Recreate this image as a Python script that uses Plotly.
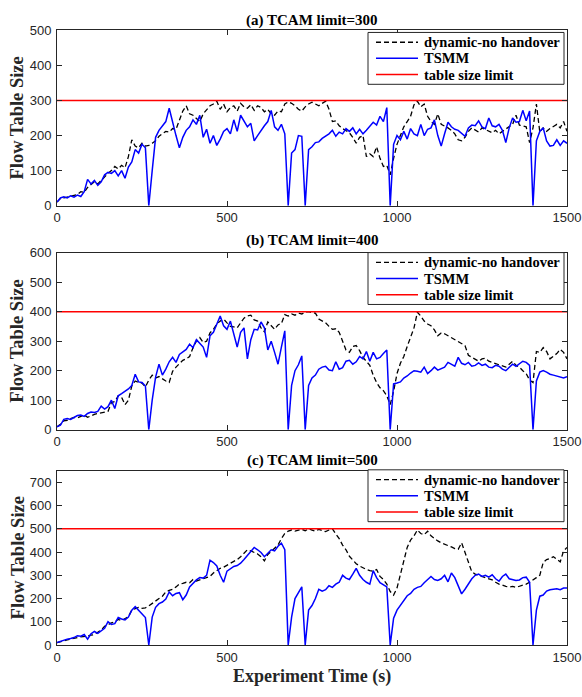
import plotly.graph_objects as go

# Time axis (s), sampled every 10 s
time_s = list(range(0, 1501, 10))

# Table-size limits for the three experiments
limits = [300, 400, 500]
panel_titles = ["(a) TCAM limit=300", "(b) TCAM limit=400", "(c) TCAM limit=500"]
y_ranges = [[0, 500], [0, 600], [0, 750]]
series_names = ["dynamic-no handover", "TSMM", "table size limit"]

# (a) limit = 300
dyn_a = [10, 20, 22, 25, 28, 30, 32, 40, 38, 52, 60, 68, 62, 72, 85, 92, 100, 112, 105, 115,
         108, 140, 188, 170, 165, 178, 170, 172, 178, 185, 198, 205, 212, 210, 220, 218, 245, 270, 285, 262,
         258, 250, 240, 262, 272, 285, 290, 298, 275, 290, 268, 280, 285, 270, 292, 282, 278, 288, 272, 285,
         280, 268, 275, 262, 258, 270, 268, 290, 296, 292, 285, 275, 270, 282, 290, 295, 290, 285, 292, 298,
         275, 240, 242, 228, 220, 215, 208, 195, 178, 195, 200, 140, 148, 140, 168, 135, 112, 115, 88, 135,
         175, 200, 225, 240, 255, 288, 298, 282, 290, 255, 240, 232, 262, 232, 228, 222, 215, 205, 188, 185,
         195, 212, 222, 215, 210, 222, 218, 212, 208, 215, 205, 212, 218, 225, 232, 258, 230, 228, 225, 180,
         222, 290, 210, 222, 212, 220, 225, 232, 222, 240, 212]
tsmm_a = [10, 22, 25, 22, 28, 24, 30, 26, 40, 75, 62, 72, 58, 68, 88, 95, 92, 100, 85, 100,
          78, 110, 125, 160, 150, 175, 165, 0, 100, 195, 215, 228, 240, 278, 235, 200, 165, 195, 215, 225,
          245, 232, 258, 195, 218, 178, 200, 172, 190, 212, 220, 205, 245, 212, 258, 240, 225, 235, 185, 200,
          215, 228, 240, 272, 225, 215, 232, 205, 0, 150, 160, 200, 198, 0, 160, 168, 180, 182, 192, 198,
          205, 215, 198, 210, 205, 220, 212, 222, 205, 218, 205, 215, 225, 238, 230, 255, 240, 280, 0, 175,
          200, 188, 212, 190, 220, 205, 200, 232, 200, 218, 222, 245, 200, 170, 205, 238, 225, 218, 215, 205,
          198, 222, 230, 228, 242, 225, 220, 250, 228, 225, 232, 215, 180, 222, 250, 238, 240, 272, 242, 270,
          0, 185, 212, 222, 185, 170, 172, 188, 172, 185, 178]

# (b) limit = 400
dyn_b = [10, 18, 30, 32, 38, 42, 40, 45, 50, 42, 48, 52, 55, 58, 60, 62, 92, 95, 115, 110,
         85, 100, 148, 165, 160, 158, 145, 168, 185, 175, 180, 172, 165, 160, 198, 212, 222, 235, 240, 248,
         278, 300, 312, 295, 300, 328, 340, 358, 368, 375, 362, 350, 348, 345, 362, 378, 385, 388, 372, 368,
         345, 332, 365, 352, 340, 355, 360, 390, 385, 392, 388, 395, 392, 398, 400, 396, 395, 375, 368, 362,
         350, 340, 342, 330, 300, 270, 262, 282, 285, 268, 245, 232, 218, 185, 160, 142, 132, 115, 85, 130,
         190, 225, 248, 282, 312, 345, 398, 385, 368, 358, 352, 338, 318, 328, 325, 318, 312, 305, 298, 292,
         285, 252, 245, 238, 232, 240, 242, 232, 228, 225, 220, 218, 212, 222, 232, 218, 212, 200, 190, 168,
         160, 265, 262, 278, 265, 240, 248, 258, 272, 262, 240]
tsmm_b = [10, 15, 35, 38, 35, 42, 48, 50, 45, 55, 60, 58, 62, 80, 70, 78, 100, 72, 115, 122,
          130, 138, 150, 188, 162, 160, 148, 0, 100, 178, 222, 185, 205, 230, 245, 228, 255, 265, 272, 290,
          278, 305, 292, 280, 245, 318, 330, 360, 385, 352, 340, 368, 322, 280, 330, 345, 240, 305, 340, 338,
          365, 345, 270, 300, 262, 222, 280, 335, 0, 150, 200, 220, 250, 0, 150, 175, 185, 205, 212, 215,
          202, 200, 230, 205, 210, 232, 235, 222, 230, 248, 240, 265, 232, 262, 240, 245, 258, 270, 0, 155,
          158, 162, 175, 182, 192, 200, 198, 195, 212, 190, 200, 212, 202, 208, 212, 228, 222, 215, 245, 225,
          220, 228, 215, 218, 226, 218, 222, 212, 210, 218, 215, 205, 200, 212, 222, 215, 225, 232, 228, 218,
          0, 165, 195, 200, 195, 188, 185, 182, 180, 175, 180]

# (c) limit = 500
dyn_c = [10, 15, 20, 22, 25, 30, 32, 35, 35, 38, 42, 45, 55, 65, 80, 88, 95, 100, 110, 105,
         115, 122, 150, 155, 162, 158, 160, 168, 180, 188, 200, 210, 228, 235, 240, 250, 262, 265, 270, 268,
         282, 275, 280, 285, 288, 295, 310, 320, 330, 335, 342, 352, 360, 368, 380, 395, 410, 405, 398, 392,
         380, 362, 390, 402, 415, 430, 458, 480, 490, 495, 490, 495, 498, 492, 500, 495, 490, 498, 492, 488,
         495, 500, 478, 458, 430, 410, 382, 365, 350, 340, 332, 325, 320, 318, 325, 295, 282, 262, 230, 215,
         245, 305, 365, 420, 452, 470, 495, 480, 475, 490, 470, 458, 448, 440, 435, 428, 422, 415, 412, 440,
         395, 350, 315, 305, 300, 298, 292, 285, 280, 270, 262, 258, 252, 250, 252, 248, 252, 255, 262, 270,
         282, 290, 300, 355, 368, 372, 380, 368, 358, 405, 420]
tsmm_c = [10, 15, 22, 25, 28, 32, 40, 38, 45, 25, 48, 58, 50, 62, 72, 100, 88, 92, 118, 112,
          108, 120, 150, 165, 150, 135, 118, 0, 120, 162, 178, 185, 198, 228, 212, 222, 225, 195, 215, 250,
          265, 280, 290, 288, 300, 365, 355, 340, 300, 270, 318, 330, 338, 342, 352, 368, 385, 400, 420, 410,
          398, 380, 395, 410, 405, 425, 438, 410, 0, 120, 200, 225, 250, 0, 150, 170, 200, 240, 232, 238,
          255, 248, 262, 270, 300, 288, 282, 305, 330, 300, 282, 270, 262, 320, 290, 268, 258, 250, 0, 115,
          150, 170, 195, 212, 222, 240, 248, 252, 268, 280, 295, 282, 278, 285, 300, 272, 310, 290, 255, 220,
          240, 262, 285, 300, 305, 295, 300, 292, 302, 285, 275, 295, 305, 285, 282, 278, 280, 290, 292, 270,
          0, 150, 210, 215, 232, 238, 240, 242, 238, 245, 245]

dyn_series = [dyn_a, dyn_b, dyn_c]
tsmm_series = [tsmm_a, tsmm_b, tsmm_c]

FIG_W, FIG_H = 582, 697
ML, MR = 57, 15
PLOT_W = FIG_W - ML - MR

SERIF = "Liberation Serif"
SANS = "Liberation Sans"
AXIS_COLOR = "#262626"

DYN_LINE = dict(color="black", width=1.3, dash="5px,3px")
TSMM_LINE = dict(color="#0000FF", width=1.5)
LIMIT_LINE = dict(color="#FF0000", width=1.5)
legend_styles = [DYN_LINE, TSMM_LINE, LIMIT_LINE]

# Panel boxes in pixels (top, bottom) and title / legend placement
panel_px = [(24, 203), (251, 432), (474, 652)]
title_px = [14, 239, 463]
legend_top_px = [26, 251, 473]


def px_x(px):
    return (px - ML) / PLOT_W


def px_y(py):
    return 1 - py / FIG_H


fig = go.Figure()
annotations = []
shapes = []
layout = dict(
    width=FIG_W, height=FIG_H,
    margin=dict(l=ML, r=MR, t=0, b=0),
    paper_bgcolor="white", plot_bgcolor="white",
    showlegend=False,
)

for i in range(3):
    sfx = "" if i == 0 else str(i + 1)
    xa, ya = "x" + sfx, "y" + sfx
    fig.add_trace(go.Scatter(
        x=time_s, y=dyn_series[i], mode="lines", name=series_names[0],
        line=DYN_LINE, xaxis=xa, yaxis=ya))
    fig.add_trace(go.Scatter(
        x=time_s, y=tsmm_series[i], mode="lines", name=series_names[1],
        line=TSMM_LINE, xaxis=xa, yaxis=ya))
    fig.add_trace(go.Scatter(
        x=[time_s[0], time_s[-1]], y=[limits[i], limits[i]], mode="lines",
        name=series_names[2], line=LIMIT_LINE, xaxis=xa, yaxis=ya))

    top, bot = panel_px[i]
    dom = [px_y(bot), px_y(top)]
    axis_common = dict(
        showline=True, linecolor=AXIS_COLOR, linewidth=1, mirror="ticks",
        ticks="inside", ticklen=5, tickcolor=AXIS_COLOR, tickwidth=1,
        showgrid=False, zeroline=False,
        tickfont=dict(family=SANS, size=13, color=AXIS_COLOR),
    )
    layout["xaxis" + sfx] = dict(
        axis_common, domain=[0, 1], range=[0, 1500], tickvals=[0, 500, 1000, 1500],
        anchor=ya)
    layout["yaxis" + sfx] = dict(
        axis_common, domain=dom, range=y_ranges[i], dtick=100,
        anchor=xa, ticklabelstandoff=2)

    annotations.append(dict(
        text="<b>" + panel_titles[i] + "</b>", xref="paper", yref="paper",
        x=0.5, y=px_y(title_px[i]), xanchor="center", yanchor="middle", showarrow=False,
        font=dict(family=SERIF, size=15, color="black")))
    annotations.append(dict(
        text="<b>Flow Table Size</b>", xref="paper", yref="paper",
        x=px_x(17.5), y=sum(dom) / 2, xanchor="center", yanchor="middle",
        textangle=-90, showarrow=False,
        font=dict(family=SERIF, size=18.5, color=AXIS_COLOR)))

    # Boxed legend in the upper-right corner of the panel
    lt = legend_top_px[i]
    shapes.append(dict(
        type="rect", xref="paper", yref="paper",
        x0=px_x(368), x1=px_x(564), y0=px_y(lt + 53), y1=px_y(lt),
        line=dict(color=AXIS_COLOR, width=1), fillcolor="white", layer="above"))
    for k, name in enumerate(series_names):
        row_y = px_y(lt + 10 + 16.5 * k)
        shapes.append(dict(
            type="line", xref="paper", yref="paper",
            x0=px_x(376), x1=px_x(418), y0=row_y, y1=row_y,
            line=legend_styles[k], layer="above"))
        annotations.append(dict(
            text="<b>" + name + "</b>", xref="paper", yref="paper",
            x=px_x(422), y=row_y, xanchor="left", yanchor="middle", showarrow=False,
            font=dict(family=SERIF, size=14.5, color="black")))

annotations.append(dict(
    text="<b>Experiment Time (s)</b>", xref="paper", yref="paper",
    x=0.5, y=px_y(684), xanchor="center", yanchor="middle", showarrow=False,
    font=dict(family=SERIF, size=18, color=AXIS_COLOR)))

layout["annotations"] = annotations
layout["shapes"] = shapes
fig.update_layout(layout)
fig.write_html("out.html")
